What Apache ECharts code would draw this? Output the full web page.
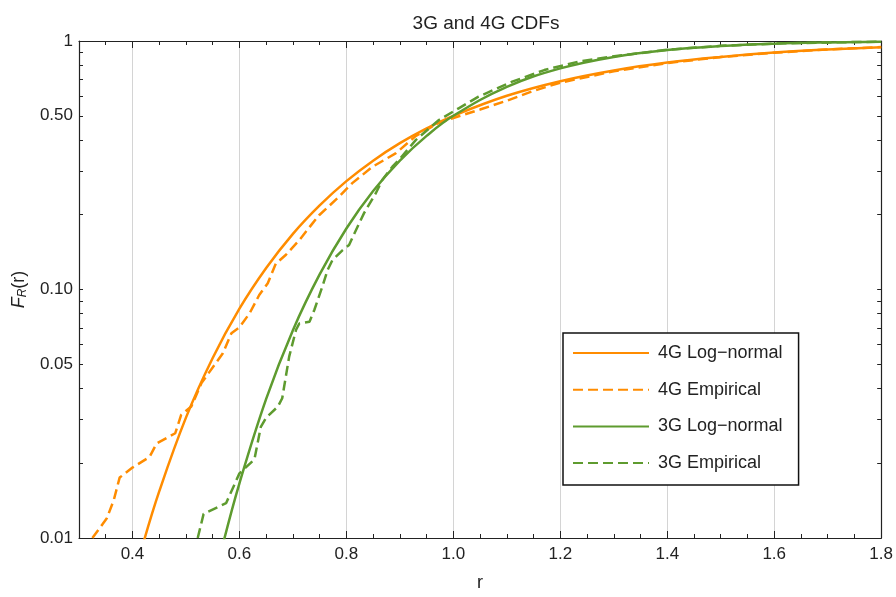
<!DOCTYPE html>
<html>
<head>
<meta charset="utf-8">
<script src="https://cdn.jsdelivr.net/npm/echarts@6/dist/echarts.min.js"></script>
<style>
  html, body { margin: 0; padding: 0; background: #fff; }
  #container { width: 896px; height: 597px; }
</style>
</head>
<body>
<div id="container"></div>
<script>
// values
var r4gFit = [0.42, 0.45, 0.5, 0.55, 0.6, 0.65, 0.7, 0.75, 0.8, 0.85, 0.9, 0.95, 1.0, 1.1, 1.2, 1.3, 1.4, 1.5, 1.6, 1.7, 1.8];
var f4gFit = [0.0095, 0.0154, 0.0305, 0.053, 0.0837, 0.122, 0.1675, 0.218, 0.273, 0.33, 0.388, 0.445, 0.5, 0.602, 0.689, 0.761, 0.819, 0.863, 0.898, 0.924, 0.944];

var r4gEmp = [0.325, 0.352, 0.365, 0.376, 0.4, 0.432, 0.445, 0.48, 0.491, 0.51, 0.529, 0.569, 0.585, 0.6, 0.619, 0.637, 0.653, 0.668, 0.687, 0.712, 0.737, 0.749, 0.786, 0.811, 0.849, 0.892, 0.93, 0.97, 1.0, 1.05, 1.1, 1.15, 1.2, 1.3, 1.4, 1.5, 1.6, 1.7, 1.8];
var f4gEmp = [0.01, 0.012, 0.0142, 0.0175, 0.0192, 0.0212, 0.024, 0.0264, 0.0313, 0.0338, 0.042, 0.0554, 0.0667, 0.0705, 0.0802, 0.095, 0.106, 0.127, 0.138, 0.158, 0.185, 0.199, 0.236, 0.268, 0.312, 0.353, 0.415, 0.465, 0.49, 0.53, 0.575, 0.63, 0.68, 0.755, 0.815, 0.862, 0.897, 0.925, 0.945];

var r3gFit = [0.57, 0.6, 0.65, 0.7, 0.75, 0.8, 0.85, 0.9, 0.95, 1.0, 1.1, 1.2, 1.3, 1.4, 1.5, 1.6, 1.7, 1.8];
var f3gFit = [0.0096, 0.0166, 0.0363, 0.0686, 0.115, 0.176, 0.249, 0.33, 0.415, 0.5, 0.654, 0.776, 0.863, 0.919, 0.954, 0.975, 0.9865, 0.993];

var r3gEmp = [0.522, 0.533, 0.575, 0.6, 0.615, 0.628, 0.64, 0.65, 0.672, 0.68, 0.693, 0.706, 0.712, 0.731, 0.74, 0.755, 0.765, 0.774, 0.793, 0.805, 0.824, 0.833, 0.855, 0.867, 0.886, 0.898, 0.93, 0.973, 1.01, 1.047, 1.11, 1.17, 1.234, 1.296, 1.4, 1.5, 1.6, 1.7, 1.8];
var f3gEmp = [0.01, 0.0125, 0.0138, 0.0182, 0.0195, 0.0207, 0.028, 0.0305, 0.0338, 0.0365, 0.0537, 0.069, 0.073, 0.0742, 0.0827, 0.1026, 0.12, 0.1315, 0.144, 0.151, 0.185, 0.203, 0.244, 0.276, 0.312, 0.332, 0.4, 0.481, 0.536, 0.597, 0.686, 0.764, 0.826, 0.865, 0.922, 0.956, 0.976, 0.987, 0.993];

var yLabelValues = [0.01, 0.05, 0.1, 0.5, 1];
var yTickValues = [0.01, 0.02, 0.03, 0.04, 0.05, 0.06, 0.07, 0.08, 0.09, 0.1, 0.2, 0.3, 0.4, 0.5, 0.6, 0.7, 0.8, 0.9, 1];

var orange = '#ff8c00';
var green = '#5e9b2f';
var font = 'Liberation Sans';

function zip(xs, ys) {
    return xs.map(function (x, i) { return [x, ys[i]]; });
}

var myChart = echarts.init(document.getElementById('container'));

var xCommon = {
    type: 'value',
    min: 0.3,
    max: 1.8,
    splitNumber: 7,
    axisLine: { show: true, onZero: false, lineStyle: { color: '#222', width: 1.2 } },
    axisTick: { show: true, inside: true, length: 7, lineStyle: { color: '#222' } },
    minorTick: { show: true, splitNumber: 4, length: 4, lineStyle: { color: '#222' } },
    minorSplitLine: { show: false }
};

var yCommon = {
    type: 'log',
    logBase: 10,
    min: 0.01,
    max: 1,
    axisLine: { show: true, onZero: false, lineStyle: { color: '#222', width: 1.2 } },
    axisTick: { show: true, inside: true, length: 4, customValues: yTickValues, lineStyle: { color: '#222' } },
    splitLine: { show: false }
};

option = {
    animation: false,
    title: {
        text: '3G and 4G CDFs',
        left: 481,
        top: 9,
        textAlign: 'center',
        textStyle: { fontFamily: font, fontSize: 19, fontWeight: 'normal', color: '#222' }
    },
    grid: { left: 79, right: 12, top: 41, bottom: 59, containLabel: false },
    legend: {
        orient: 'vertical',
        left: 563,
        top: 333,
        padding: [11, 16, 13, 9],
        itemWidth: 76,
        itemHeight: 14,
        itemGap: 18.7,
        borderColor: '#111',
        borderWidth: 1.5,
        backgroundColor: '#fff',
        itemStyle: { color: 'transparent', borderWidth: 0, opacity: 0 },
        textStyle: { fontFamily: font, fontSize: 18, lineHeight: 18, color: '#222', padding: [0, 0, 0, 4] },
        data: ['4G Log\u2212normal', '4G Empirical', '3G Log\u2212normal', '3G Empirical']
    },
    xAxis: [
        Object.assign({}, xCommon, {
            position: 'bottom',
            name: 'r',
            nameLocation: 'middle',
            nameGap: 36,
            nameTextStyle: { fontFamily: font, fontSize: 18, color: '#222' },
            axisLabel: {
                show: true,
                showMinLabel: false,
                fontFamily: font,
                fontSize: 17,
                color: '#222',
                margin: 8,
                formatter: function (v) { return v.toFixed(1); }
            },
            splitLine: { show: true, lineStyle: { color: '#d4d4d4', width: 1 } }
        }),
        Object.assign({}, xCommon, {
            position: 'top',
            axisLabel: { show: false },
            splitLine: { show: false }
        })
    ],
    yAxis: [
        Object.assign({}, yCommon, {
            position: 'left',
            name: '{i|F}{s|R}{n|(r)}',
            nameLocation: 'middle',
            nameGap: 42,
            nameTextStyle: {
                color: '#222',
                rich: {
                    i: { fontFamily: font, fontSize: 18, fontStyle: 'italic', color: '#222' },
                    s: { fontFamily: font, fontSize: 12, fontStyle: 'italic', color: '#222', verticalAlign: 'bottom', padding: [8, 0, 0, 0] },
                    n: { fontFamily: font, fontSize: 18, color: '#222' }
                }
            },
            axisLabel: {
                show: true,
                customValues: yLabelValues,
                fontFamily: font,
                fontSize: 17,
                color: '#222',
                margin: 6,
                formatter: function (v) {
                    return Math.abs(v - 1) < 1e-9 ? '1' : v.toFixed(2);
                }
            }
        }),
        Object.assign({}, yCommon, {
            position: 'right',
            axisLabel: { show: false }
        })
    ],
    series: [
        {
            name: '4G Log\u2212normal',
            type: 'line',
            symbol: 'none',
            smooth: 0.4,
            color: orange,
            lineStyle: { color: orange, width: 2.5 },
            data: zip(r4gFit, f4gFit)
        },
        {
            name: '4G Empirical',
            type: 'line',
            symbol: 'none',
            color: orange,
            lineStyle: { color: orange, width: 2.5, type: [10, 5] },
            data: zip(r4gEmp, f4gEmp)
        },
        {
            name: '3G Log\u2212normal',
            type: 'line',
            symbol: 'none',
            smooth: 0.4,
            color: green,
            lineStyle: { color: green, width: 2.5 },
            data: zip(r3gFit, f3gFit)
        },
        {
            name: '3G Empirical',
            type: 'line',
            symbol: 'none',
            color: green,
            lineStyle: { color: green, width: 2.5, type: [10, 5] },
            data: zip(r3gEmp, f3gEmp)
        }
    ]
};

myChart.setOption(option);
</script>
</body>
</html>
